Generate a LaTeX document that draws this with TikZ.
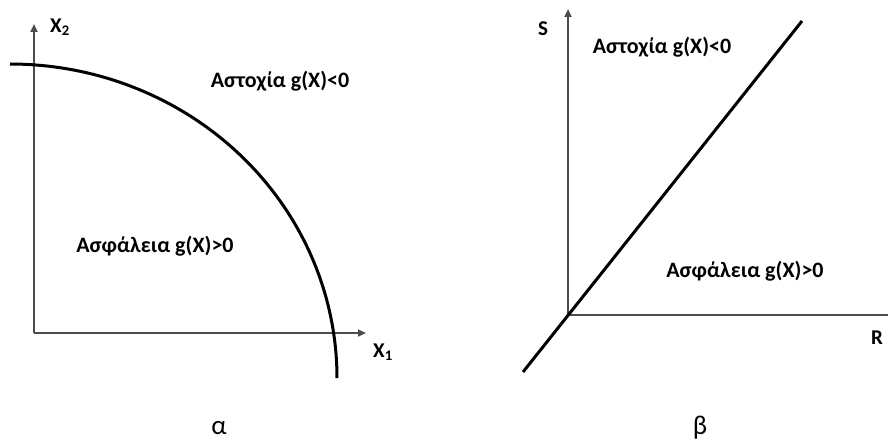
\documentclass[tikz,border=0pt]{standalone}
\usepackage{fontspec}
\setmainfont{Carlito}
\usetikzlibrary{arrows.meta}
\tikzset{
  axis/.style={draw=black!70, line width=2pt, -{Triangle[length=8pt,width=7pt]}},
  axisplain/.style={draw=black!70, line width=2pt},
  boundary/.style={draw=black, line width=3pt},
  region/.style={font=\bfseries\fontsize{22}{26}\selectfont, inner sep=0pt},
  axlabel/.style={font=\bfseries\fontsize{21}{24}\selectfont, inner sep=0pt},
  caption/.style={font=\fontsize{27}{30}\selectfont, inner sep=0pt}
}
\begin{document}
\begin{tikzpicture}[x=1pt,y=-1pt]
\useasboundingbox (0,0) rectangle (888,441);
% left panel
\coordinate (oA) at (34,333);
\coordinate (yA) at (34,24);
\coordinate (xA) at (366,333);
\draw[axis] (oA) -- (yA);
\draw[axis] (oA) -- (xA);
\draw[boundary] plot[domain=0:90, samples=80, smooth] ({10+327*sin(\x)}, {378-314*cos(\x)});
\node[axlabel] (x2) at (60,27) {X\textsubscript{2}};
\node[axlabel] (x1) at (383,352) {X\textsubscript{1}};
\node[region] (failA) at (280,81) {Αστοχία g(X)<0};
\node[region] (safeA) at (155,246) {Ασφάλεια g(X)>0};
\node[caption] (capA) at (219,428) {α};
% right panel
\coordinate (oB) at (568,315);
\coordinate (yB) at (568,9);
\coordinate (xB) at (888,315);
\draw[axis] (oB) -- (yB);
\draw[axisplain] (oB) -- (xB);
\coordinate (lineS) at (523,372);
\coordinate (lineE) at (802,21);
\draw[boundary] (lineS) -- (lineE);
\node[axlabel] (S) at (543,29) {S};
\node[axlabel] (R) at (877,338) {R};
\node[region] (failB) at (662,47) {Αστοχία g(X)<0};
\node[region] (safeB) at (745,271) {Ασφάλεια g(X)>0};
\node[caption] (capB) at (700,428) {β};
\end{tikzpicture}
\end{document}
